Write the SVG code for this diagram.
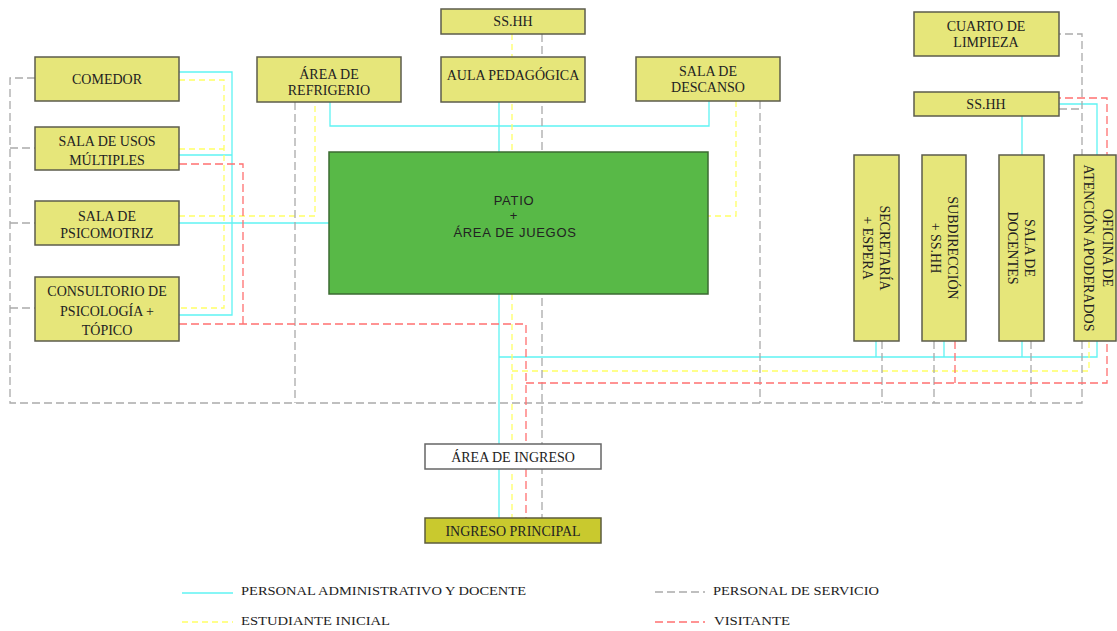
<svg xmlns="http://www.w3.org/2000/svg" width="1117" height="631" viewBox="0 0 1117 631">
  <style>
    .node { fill: #e6e67a; stroke: #5c5c4c; stroke-width: 1.5; }
    .patio { fill: #58b947; stroke: #3b6b32; stroke-width: 1.5; }
    .entry { fill: #ffffff; stroke: #666; stroke-width: 1.5; }
    .main { fill: #c9c92e; stroke: #5c5c3c; stroke-width: 1.5; }
    .t { font-family: "Liberation Serif", "Times New Roman", serif; font-size: 14px; fill: #222; text-anchor: middle; }
    .tp { font-family: "Liberation Sans", Arial, sans-serif; font-size: 13px; fill: #222; text-anchor: middle; letter-spacing: 0.7px; }
    .lg { font-family: "Liberation Serif", "Times New Roman", serif; font-size: 13.5px; fill: #222; }
    .adm { fill: none; stroke: #5ff3f3; stroke-width: 1.3; }
    .est { fill: none; stroke: #ffff66; stroke-width: 1.3; stroke-dasharray: 6 4; }
    .ser { fill: none; stroke: #aaaaaa; stroke-width: 1.3; stroke-dasharray: 8 4; }
    .vis { fill: none; stroke: #ff7070; stroke-width: 1.3; stroke-dasharray: 8 4; }
  </style>

  <!-- circulation routes -->
  <g id="connectors">
    <!-- personal administrativo y docente -->
    <polyline class="adm" points="179,72 232,72 232,315 179,315"/>
    <line class="adm" x1="179" y1="155" x2="232" y2="155"/>
    <line class="adm" x1="179" y1="223" x2="329" y2="223"/>
    <polyline class="adm" points="330,102 330,126 709,126 709,101"/>
    <line class="adm" x1="499" y1="102" x2="499" y2="518"/>
    <polyline class="adm" points="499,357 1097,357 1097,104 1059,104"/>
    <line class="adm" x1="876" y1="341" x2="876" y2="357"/>
    <line class="adm" x1="944" y1="341" x2="944" y2="357"/>
    <line class="adm" x1="1022" y1="341" x2="1022" y2="357"/>
    <line class="adm" x1="1022" y1="116" x2="1022" y2="155"/>

    <!-- estudiante inicial -->
    <polyline class="est" points="179,80 224,80 224,308 179,308"/>
    <line class="est" x1="179" y1="149" x2="224" y2="149"/>
    <polyline class="est" points="179,216 315,216 315,102"/>
    <polyline class="est" points="736,101 736,216 708,216"/>
    <line class="est" x1="512" y1="34" x2="512" y2="518"/>
    <polyline class="est" points="512,371 1089,371 1089,341"/>

    <!-- personal de servicio -->
    <polyline class="ser" points="35,78 10,78 10,403 1082,403 1082,34 1059,34"/>
    <line class="ser" x1="10" y1="148" x2="35" y2="148"/>
    <line class="ser" x1="10" y1="223" x2="35" y2="223"/>
    <line class="ser" x1="10" y1="308" x2="35" y2="308"/>
    <line class="ser" x1="295" y1="102" x2="295" y2="403"/>
    <line class="ser" x1="760" y1="101" x2="760" y2="403"/>
    <line class="ser" x1="542" y1="34" x2="542" y2="518"/>
    <line class="ser" x1="882" y1="341" x2="882" y2="403"/>
    <line class="ser" x1="934" y1="341" x2="934" y2="403"/>
    <line class="ser" x1="1031" y1="341" x2="1031" y2="403"/>
    <line class="ser" x1="1059" y1="109" x2="1082" y2="109"/>

    <!-- visitante -->
    <polyline class="vis" points="179,164 243,164 243,324"/>
    <polyline class="vis" points="179,324 526,324 526,518"/>
    <polyline class="vis" points="526,383 1107,383 1107,98 1059,98"/>
    <line class="vis" x1="955" y1="341" x2="955" y2="383"/>
  </g>

  <!-- spaces -->
  <g id="comedor">
    <rect class="node" x="35" y="57" width="144" height="44"/>
    <text class="t" x="107" y="84">COMEDOR</text>
  </g>
  <g id="sala-usos-multiples">
    <rect class="node" x="35" y="127" width="144" height="43"/>
    <text class="t" x="107" y="146">SALA DE USOS</text>
    <text class="t" x="107" y="165">MÚLTIPLES</text>
  </g>
  <g id="sala-psicomotriz">
    <rect class="node" x="35" y="201" width="144" height="44"/>
    <text class="t" x="107" y="221">SALA DE</text>
    <text class="t" x="107" y="238">PSICOMOTRIZ</text>
  </g>
  <g id="consultorio">
    <rect class="node" x="35" y="277" width="144" height="64"/>
    <text class="t" x="107" y="296">CONSULTORIO DE</text>
    <text class="t" x="107" y="316">PSICOLOGÍA +</text>
    <text class="t" x="107" y="335">TÓPICO</text>
  </g>
  <g id="area-refrigerio">
    <rect class="node" x="257" y="57" width="144" height="45"/>
    <text class="t" x="329" y="79">ÁREA DE</text>
    <text class="t" x="329" y="95">REFRIGERIO</text>
  </g>
  <g id="sshh-aula">
    <rect class="node" x="441" y="9" width="144" height="25"/>
    <text class="t" x="513" y="26">SS.HH</text>
  </g>
  <g id="aula-pedagogica">
    <rect class="node" x="441" y="57" width="144" height="45"/>
    <text class="t" x="513" y="80">AULA PEDAGÓGICA</text>
  </g>
  <g id="sala-descanso">
    <rect class="node" x="636" y="57" width="144" height="44"/>
    <text class="t" x="708" y="76">SALA DE</text>
    <text class="t" x="708" y="92">DESCANSO</text>
  </g>
  <g id="patio">
    <rect class="patio" x="329" y="152" width="379" height="142"/>
    <text class="tp" x="514" y="205">PATIO</text>
    <text class="tp" x="514" y="220">+</text>
    <text class="tp" x="515" y="237">ÁREA DE JUEGOS</text>
  </g>
  <g id="cuarto-limpieza">
    <rect class="node" x="914" y="12" width="145" height="44"/>
    <text class="t" x="986" y="31">CUARTO DE</text>
    <text class="t" x="986" y="47">LIMPIEZA</text>
  </g>
  <g id="sshh-admin">
    <rect class="node" x="914" y="92" width="145" height="24"/>
    <text class="t" x="986" y="109">SS.HH</text>
  </g>
  <g id="secretaria">
    <rect class="node" x="854" y="155" width="45" height="186"/>
    <text class="t" transform="translate(876 248) rotate(90)" x="0" y="-4">SECRETARÍA</text>
    <text class="t" transform="translate(876 248) rotate(90)" x="0" y="13">+ ESPERA</text>
  </g>
  <g id="subdireccion">
    <rect class="node" x="922" y="155" width="44" height="186"/>
    <text class="t" transform="translate(944 248) rotate(90)" x="0" y="-4">SUBDIRECCIÓN</text>
    <text class="t" transform="translate(944 248) rotate(90)" x="0" y="13">+ SS.HH</text>
  </g>
  <g id="sala-docentes">
    <rect class="node" x="999" y="155" width="45" height="186"/>
    <text class="t" transform="translate(1021 248) rotate(90)" x="0" y="-4">SALA DE</text>
    <text class="t" transform="translate(1021 248) rotate(90)" x="0" y="13">DOCENTES</text>
  </g>
  <g id="oficina-apoderados">
    <rect class="node" x="1074" y="155" width="42" height="186"/>
    <text class="t" transform="translate(1095 248) rotate(90)" x="0" y="-8">OFICINA DE</text>
    <text class="t" transform="translate(1095 248) rotate(90)" x="0" y="11">ATENCIÓN APODERADOS</text>
  </g>
  <g id="area-ingreso">
    <rect class="entry" x="425" y="444" width="176" height="25"/>
    <text class="t" x="513" y="462">ÁREA DE INGRESO</text>
  </g>
  <g id="ingreso-principal">
    <rect class="main" x="425" y="518" width="176" height="25"/>
    <text class="t" x="513" y="536">INGRESO PRINCIPAL</text>
  </g>

  <!-- legend -->
  <g id="legend">
    <line class="adm" x1="182" y1="593" x2="233" y2="593"/>
    <text class="lg" x="241" y="595" textLength="285" lengthAdjust="spacingAndGlyphs">PERSONAL ADMINISTRATIVO Y DOCENTE</text>
    <line class="est" x1="182" y1="622" x2="233" y2="622"/>
    <text class="lg" x="241" y="625" textLength="149" lengthAdjust="spacingAndGlyphs">ESTUDIANTE INICIAL</text>
    <line class="ser" x1="655" y1="592" x2="705" y2="592"/>
    <text class="lg" x="713" y="595" textLength="166" lengthAdjust="spacingAndGlyphs">PERSONAL DE SERVICIO</text>
    <line class="vis" x1="655" y1="622" x2="705" y2="622"/>
    <text class="lg" x="714" y="625" textLength="76" lengthAdjust="spacingAndGlyphs">VISITANTE</text>
  </g>
</svg>
